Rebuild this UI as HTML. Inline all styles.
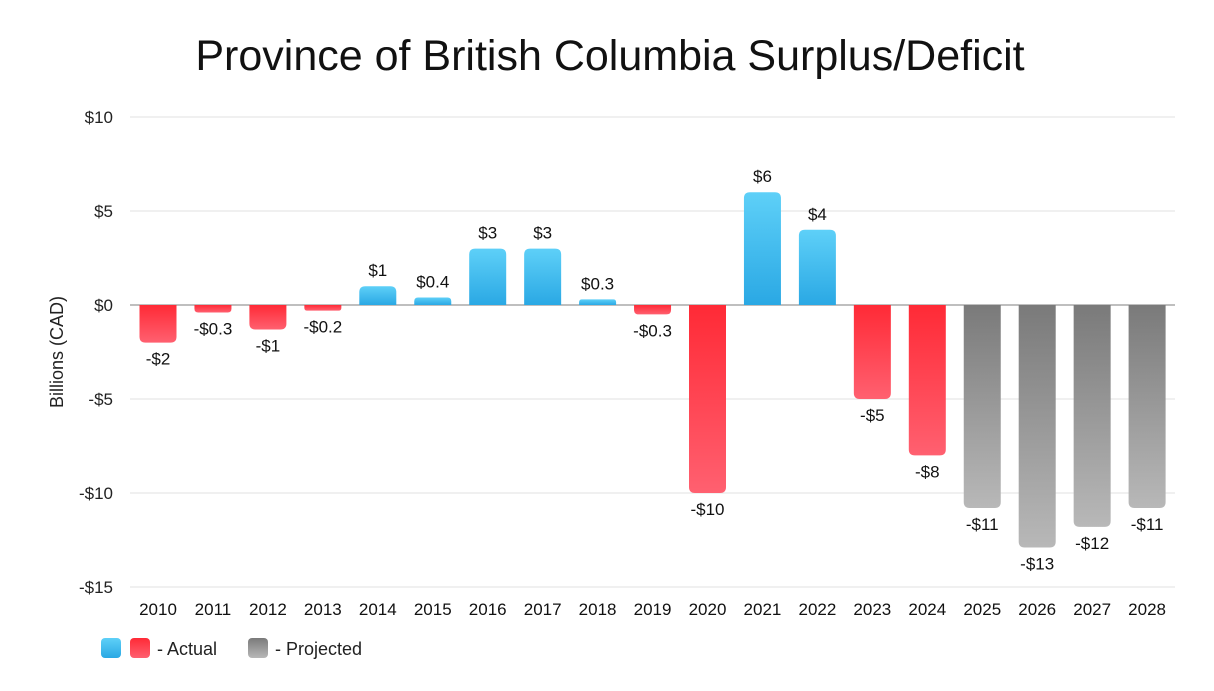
<!DOCTYPE html>
<html><head><meta charset="utf-8"><style>
body{margin:0;background:#fff;font-family:"Liberation Sans",sans-serif}
svg{display:block}
</style></head><body>
<svg id="chart" width="1214" height="691">
<defs>
<linearGradient id="gb" x1="0" y1="0" x2="0" y2="1"><stop offset="0" stop-color="#5ed0f8"/><stop offset="1" stop-color="#2aa8e4"/></linearGradient>
<linearGradient id="gr" x1="0" y1="0" x2="0" y2="1"><stop offset="0" stop-color="#ff2a36"/><stop offset="1" stop-color="#ff6070"/></linearGradient>
<linearGradient id="gg" x1="0" y1="0" x2="0" y2="1"><stop offset="0" stop-color="#7a7a7a"/><stop offset="1" stop-color="#b8b8b8"/></linearGradient>
</defs>
<text x="610" y="70" text-anchor="middle" font-size="43" fill="#111">Province of British Columbia Surplus/Deficit</text>
<text transform="translate(63,352) rotate(-90)" text-anchor="middle" font-size="18" fill="#222">Billions (CAD)</text>
<g id="grid"></g><g id="bars"></g>
<g>
<rect x="101" y="638" width="20" height="20" rx="4" fill="url(#gb)"/>
<rect x="130" y="638" width="20" height="20" rx="4" fill="url(#gr)"/>
<text x="157" y="655" font-size="18" fill="#222">- Actual</text>
<rect x="248" y="638" width="20" height="20" rx="4" fill="url(#gg)"/>
<text x="275" y="655" font-size="18" fill="#222">- Projected</text>
</g>
</svg>
<script>
const years=["2010","2011","2012","2013","2014","2015","2016","2017","2018","2019","2020","2021","2022","2023","2024","2025","2026","2027","2028"];
const values=[-2,-0.4,-1.3,-0.3,1,0.4,3,3,0.3,-0.5,-10,6,4,-5,-8,-10.8,-12.9,-11.8,-10.8];
const labels=["-$2","-$0.3","-$1","-$0.2","$1","$0.4","$3","$3","$0.3","-$0.3","-$10","$6","$4","-$5","-$8","-$11","-$13","-$12","-$11"];
const projected=[0,0,0,0,0,0,0,0,0,0,0,0,0,0,0,1,1,1,1];
const ticks=[10,5,0,-5,-10,-15];
const tickLabels=["$10","$5","$0","-$5","-$10","-$15"];
const NS="http://www.w3.org/2000/svg";
const y=v=>305-v*18.8;
const x=i=>158+i*54.95;
const grid=document.getElementById('grid'),bars=document.getElementById('bars');
function mk(tag,attrs,parent){const e=document.createElementNS(NS,tag);for(const k in attrs)e.setAttribute(k,attrs[k]);parent.appendChild(e);return e;}
ticks.forEach((t,i)=>{
 const l=mk('line',{x1:130,x2:1175,y1:y(t),y2:y(t),stroke:t===0?'#aaa':'#e2e2e2','stroke-width':t===0?1.5:1},grid);
 
 
 const tx=mk('text',{x:113,y:y(t)+6,'text-anchor':'end','font-size':17,fill:'#222'},grid);
 tx.textContent=tickLabels[i];
 
 
});
years.forEach((yr,i)=>{
 const v=values[i],w=37,cx=x(i),x0=cx-w/2,r=Math.min(6,Math.abs(y(v)-y(0))/2);
 const top=y(Math.max(v,0)),bot=y(Math.min(v,0));
 let d;
 if(v>=0)d=`M${x0},${bot}V${top+r}Q${x0},${top} ${x0+r},${top}H${x0+w-r}Q${x0+w},${top} ${x0+w},${top+r}V${bot}Z`;
 else d=`M${x0},${top}V${bot-r}Q${x0},${bot} ${x0+r},${bot}H${x0+w-r}Q${x0+w},${bot} ${x0+w},${bot-r}V${top}Z`;
 const fill=projected[i]?'url(#gg)':(v>=0?'url(#gb)':'url(#gr)');
 const p=mk('path',{d:d,fill:fill},bars);
 
 
 const lt=mk('text',{x:cx,y:v>=0?top-10:bot+22,'text-anchor':'middle','font-size':17,fill:'#111'},bars);
 lt.textContent=labels[i];
 
 
 const xt=mk('text',{x:cx,y:615,'text-anchor':'middle','font-size':17,fill:'#111'},bars);
 xt.textContent=yr;
 
 
});
</script>
</body></html>
